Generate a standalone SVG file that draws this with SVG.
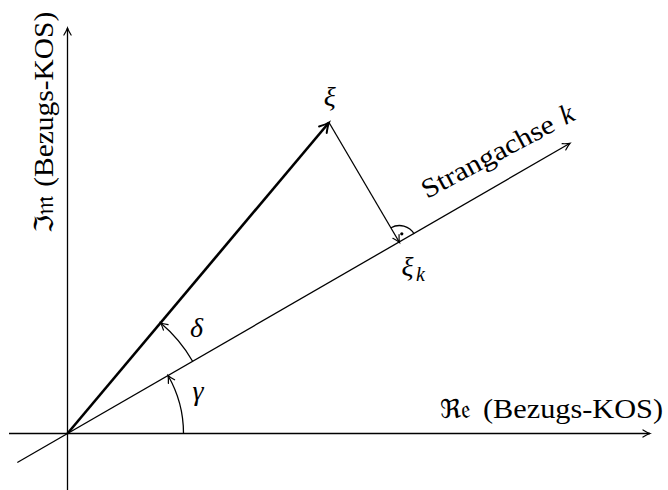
<svg xmlns="http://www.w3.org/2000/svg" width="668" height="490" viewBox="0 0 668 490">
<style>
.ln{stroke:#000;stroke-width:1.3;fill:none}
.thk{stroke:#000;stroke-width:2.6;fill:none}
.t{font-family:'Liberation Serif','Times New Roman',serif;font-size:27px;fill:#000}
.m{font-family:'Liberation Serif','Times New Roman',serif;font-style:italic;font-size:28px;fill:#000}
.fr{font-family:'DejaVu Serif','DejaVu Sans',serif;font-size:26px;fill:#000}
</style>
<defs>
<marker id="a" markerUnits="userSpaceOnUse" markerWidth="14" markerHeight="12" refX="0" refY="0" viewBox="-9 -6 10 12" orient="auto" overflow="visible">
<path d="M-7,-3.6 Q-2.5,-0.8 0,0 Q-2.5,0.8 -7,3.6" fill="none" stroke="#000" stroke-width="1.2" stroke-linecap="round"/>
</marker>
<marker id="b" markerUnits="userSpaceOnUse" markerWidth="16" markerHeight="14" refX="0" refY="0" viewBox="-12 -7 13 14" orient="auto" overflow="visible">
<path d="M-9.5,-5 Q-3.5,-1.2 0,0 Q-3.5,1.2 -9.5,5" fill="none" stroke="#000" stroke-width="2" stroke-linecap="round"/>
</marker>
</defs>
<g id="connectors">
<line id="x-axis" class="ln" x1="9" y1="433.5" x2="650" y2="433.5" marker-end="url(#a)"/>
<line id="y-axis" class="ln" x1="67.5" y1="490" x2="67.5" y2="28" marker-end="url(#a)"/>
<line id="strangachse" class="ln" x1="17.3" y1="462.5" x2="570" y2="143.3" marker-end="url(#a)"/>
<line id="xi-vector" class="thk" x1="67.5" y1="433.5" x2="329" y2="122.5" marker-end="url(#b)"/>
<line id="xi-proj" class="ln" x1="329" y1="122.5" x2="399.5" y2="242.5" marker-end="url(#a)"/>
<path id="delta-arc" class="ln" d="M192.6,361.25 A144.5,144.5 0 0 0 160.4,322.8" marker-end="url(#a)"/>
<path id="gamma-arc" class="ln" d="M183.5,433.5 A116,116 0 0 0 168,375.5" marker-end="url(#a)"/>
<path id="right-angle" class="ln" d="M414.2,234 A17,17 0 0 0 391,227.8"/>
<circle cx="401.8" cy="233.8" r="1.6" fill="#000"/>
</g>
<g id="re-label">
<text class="fr" x="440" y="418">ℜ𝔢</text>
<text class="t" x="483" y="418" textLength="180" lengthAdjust="spacingAndGlyphs">(Bezugs-KOS)</text>
</g>
<g id="im-label" transform="translate(53.3,233) rotate(-90)">
<text class="fr" x="0" y="0">ℑ𝔪</text>
<text class="t" x="46.3" y="0" textLength="175" lengthAdjust="spacingAndGlyphs">(Bezugs-KOS)</text>
</g>
<g id="strang-label" transform="translate(427,199) rotate(-28)">
<text class="t" x="0" y="0" textLength="147" lengthAdjust="spacingAndGlyphs">Strangachse</text>
<text class="m" x="157" y="0">k</text>
</g>
<g id="xi">
<text class="m" x="329.7" y="106" text-anchor="middle">ξ</text>
</g>
<g id="xi-k">
<text class="m" x="401.5" y="276">ξ</text>
<text class="m" x="416" y="281" style="font-size:20px">k</text>
</g>
<g id="delta">
<text class="m" x="196.5" y="337" text-anchor="middle">δ</text>
</g>
<g id="gamma">
<text class="m" x="198" y="400" text-anchor="middle">γ</text>
</g>
</svg>
